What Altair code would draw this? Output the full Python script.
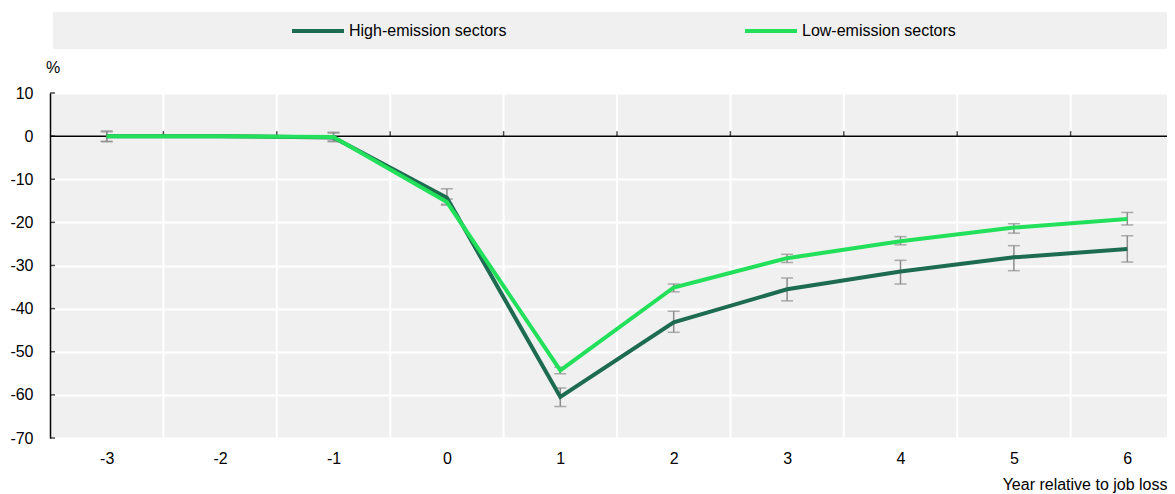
import altair as alt
import pandas as pd

# ---- data ----
years = [-3, -2, -1, 0, 1, 2, 3, 4, 5, 6]
series_names = ["High-emission sectors", "Low-emission sectors"]
high = [0.0, 0.0, -0.3, -14.3, -60.5, -43.2, -35.5, -31.4, -28.1, -26.2]
high_lo = [-1.3, None, -1.3, -15.8, -62.7, -45.5, -38.2, -34.3, -31.2, -29.2]
high_hi = [1.2, None, 0.9, -12.2, -58.4, -40.6, -32.9, -28.8, -25.4, -23.1]
low = [0.0, 0.0, -0.2, -15.3, -54.3, -35.1, -28.3, -24.4, -21.2, -19.2]
low_lo = [-1.2, None, -1.1, -16.0, -55.1, -36.1, -29.3, -25.2, -22.5, -20.6]
low_hi = [1.0, None, 0.7, -14.6, -53.6, -34.3, -27.4, -23.3, -20.3, -17.7]
y_ticks = [-70, -60, -50, -40, -30, -20, -10, 0, 10]
colors = ["#1d6b50", "#22e05a"]

FONT = "Liberation Sans"
W, H = 1117, 345
BAND = 113.4

rows = []
for name, vals, los, his in [(series_names[0], high, high_lo, high_hi),
                             (series_names[1], low, low_lo, low_hi)]:
    for yr, v, lo, hi in zip(years, vals, los, his):
        rows.append({"year": yr, "series": name, "value": v, "lo": lo, "hi": hi})
df = pd.DataFrame(rows)
err = df.dropna(subset=["lo", "hi"])

bounds = pd.DataFrame({"b": [(a + b) / 2 for a, b in zip(years[:-1], years[1:])]})
ticks_df = pd.DataFrame({"v": y_ticks})
one = pd.DataFrame({"k": [0]})

xs = alt.Scale(domain=[years[0] - 0.5, years[0] - 0.5 + W / BAND], nice=False, zero=False)
ys = alt.Scale(domain=[y_ticks[0], y_ticks[-1]], nice=False, zero=False)

x_axis = alt.Axis(values=years, labelExpr="'' + datum.value", grid=False, domain=False,
                  ticks=False, labelPadding=12, labelFontSize=16, labelColor="#000",
                  title="Year relative to job loss", titleFontSize=16, titleFontWeight="normal",
                  titleColor="#000", titleAnchor="end", titleAlign="right", titleX=W,
                  titleY=46, titleBaseline="middle", labelFlush=False)
y_axis = alt.Axis(values=y_ticks, labelExpr="'' + datum.value", grid=True, gridColor="white",
                  gridWidth=2, domain=True, domainColor="#000", domainWidth=1.5, ticks=False,
                  tickSize=0, labelPadding=17, labelFontSize=16, labelColor="#000",
                  title="%", titleAngle=0, titleX=2.5, titleY=-25.5, titleAlign="center",
                  titleBaseline="middle", titleFontSize=16, titleFontWeight="normal",
                  titleColor="#000")

legend_bg = alt.Chart(one).mark_rect(color="#f0f0f0").encode(
    x=alt.value(3), x2=alt.value(W), y=alt.value(-81), y2=alt.value(-44))

vgrid = alt.Chart(bounds).mark_rule(color="white", strokeWidth=2).encode(
    x=alt.X("b:Q", scale=xs, axis=x_axis))

hgrid_axis = alt.Chart(ticks_df).mark_tick(orient="horizontal", color="#000", size=5,
                                           thickness=1.5, xOffset=2.5).encode(
    y=alt.Y("v:Q", scale=ys, axis=y_axis), x=alt.value(0))

zero = alt.Chart(one).mark_rule(color="#000", strokeWidth=1.5).encode(y=alt.datum(0))
zero_ticks = alt.Chart(bounds).mark_tick(orient="vertical", color="#000", size=5,
                                         thickness=1.5, yOffset=-2.5).encode(
    x="b:Q", y=alt.datum(0))

err_rule = alt.Chart(err).mark_rule(color="#8c8c8c", strokeWidth=1.5).encode(
    x="year:Q", y="lo:Q", y2="hi:Q")
cap_lo = alt.Chart(err).mark_tick(orient="horizontal", color="#8c8c8c", size=12,
                                  thickness=1.5).encode(x="year:Q", y="lo:Q")
cap_hi = alt.Chart(err).mark_tick(orient="horizontal", color="#8c8c8c", size=12,
                                  thickness=1.5).encode(x="year:Q", y="hi:Q")

lines = alt.Chart(df).mark_line(strokeWidth=4).encode(
    x="year:Q", y="value:Q",
    color=alt.Color("series:N",
                    scale=alt.Scale(domain=series_names, range=colors),
                    sort=series_names,
                    legend=alt.Legend(orient="none", legendX=240, legendY=-90,
                                      direction="horizontal", title=None,
                                      symbolType="stroke", symbolSize=2700,
                                      symbolStrokeWidth=4, labelFont=FONT,
                                      labelFontSize=16, labelColor="#000",
                                      labelOffset=3, columnPadding=230)),
    order="year:Q")

chart = alt.layer(legend_bg, vgrid, hgrid_axis, zero, zero_ticks, err_rule, cap_lo, cap_hi,
                  lines).properties(
    width=W, height=H,
    padding={"left": 42, "top": 85, "right": 0, "bottom": 56},
    autosize=alt.AutoSizeParams(type="none"),
    background="white",
).configure_view(fill="#f0f0f0", stroke=None).configure_axis(
    labelFont=FONT, titleFont=FONT).configure_legend(labelFont=FONT)

chart.save("out.html", embed_options={"renderer": "svg", "actions": False})
